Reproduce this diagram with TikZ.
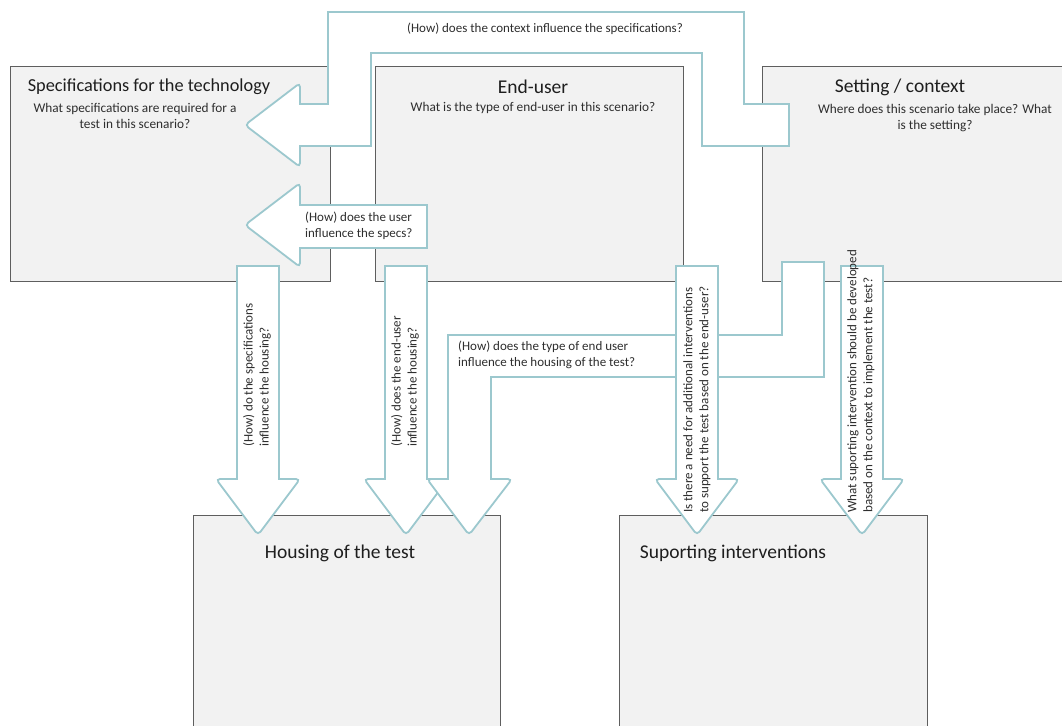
\documentclass[tikz,border=0pt]{standalone}
\usepackage{fontspec}
\setmainfont{Carlito}
\definecolor{boxline}{HTML}{5E5E5E}
\definecolor{boxfill}{HTML}{F2F2F2}
\definecolor{teal1}{HTML}{9CC8CE}
\definecolor{txtcol}{HTML}{2E2E2E}
\definecolor{titlecol}{HTML}{1E1E1E}
\begin{document}
\begin{tikzpicture}[x=1pt,y=-1pt,
  box/.style={draw=boxline, fill=boxfill, line width=1pt, anchor=north west, inner sep=0pt},
  blk/.style={draw=teal1, fill=white, line width=1.8pt, line join=miter},
  ttl/.style={font=\fontsize{19.5}{22}\selectfont, text=titlecol, inner sep=0pt},
  sub/.style={font=\fontsize{13.3}{16}\selectfont, text=txtcol, align=center, inner sep=0pt},
  lbl/.style={font=\fontsize{13}{16}\selectfont, text=txtcol, align=left, inner sep=0pt},
  vlbl/.style={lbl, rotate=90, anchor=west},
]
\useasboundingbox (0,0) rectangle (1062,725);
\clip (0,0) rectangle (1062,725);

% boxes
\node[box, minimum width=320pt, minimum height=215pt] (spec) at (10,66) {};
\node[box, minimum width=308pt, minimum height=215pt] (eu) at (375,66) {};
\node[box, minimum width=320pt, minimum height=215pt] (set) at (762,66) {};
\node[box, minimum width=307pt, minimum height=240pt] (hous) at (193,515) {};
\node[box, minimum width=308pt, minimum height=240pt] (supp) at (619,515) {};

% titles and questions
\node[ttl, font=\fontsize{18.3}{22}\selectfont] (specT) at (149,87) {Specifications for the technology};
\node[sub] (specQ) at (135,116) {What specifications are required for a\\test in this scenario?};
\node[ttl] (euT) at (533,87) {End-user};
\node[sub] (euQ) at (533,108) {What is the type of end-user in this scenario?};
\node[ttl] (setT) at (900,87) {Setting / context};
\node[sub] (setQ) at (935,118) {Where does this scenario take place? What\\is the setting?};
\node[ttl] (housT) at (340,553) {Housing of the test};
\node[ttl] (suppT) at (733,553) {Suporting interventions};

% block arrows
\draw[blk] (328,104) -- (328,12) -- (744,12) -- (744,104) -- (789,104) -- (789,146) -- (702,146) -- (702,53) -- (371,53) -- (371,146) -- (300,146)
  [rounded corners=4pt] -- (300,167) -- (245,125) -- (300,83) [sharp corners] -- (300,104) -- cycle;
\draw[blk] (427,205) -- (427,248) -- (300,248) [rounded corners=4pt] -- (300,267) -- (245,225) -- (300,183) [sharp corners] -- (300,205) -- cycle;
\draw[blk] (237,266) -- (279,266) -- (279,479) [rounded corners=4pt] -- (300,479) -- (258,535) -- (216,479) [sharp corners] -- (237,479) -- cycle;
\draw[blk] (385,266) -- (427,266) -- (427,479) [rounded corners=4pt] -- (448,479) -- (406,535) -- (364,479) [sharp corners] -- (385,479) -- cycle;
\draw[blk] (782,262) -- (824,262) -- (824,377) -- (491,377) -- (491,479) [rounded corners=4pt] -- (512,479) -- (469,535) -- (427,479) [sharp corners] -- (448,479) -- (448,335) -- (782,335) -- cycle;
\draw[blk] (676,266) -- (718,266) -- (718,479) [rounded corners=4pt] -- (739,479) -- (697,535) -- (655,479) [sharp corners] -- (676,479) -- cycle;
\draw[blk] (841,266) -- (883,266) -- (883,479) [rounded corners=4pt] -- (904,479) -- (862,535) -- (820,479) [sharp corners] -- (841,479) -- cycle;

% arrow labels
\node[lbl] (l1) at (545,29) {(How) does the context influence the specifications?};
\node[lbl, anchor=west] (l2) at (305,226) {(How) does the user\\influence the specs?};
\node[lbl, anchor=west] (l3) at (458,355) {(How) does the type of end user\\influence the housing of the test?};
\node[vlbl] (l4) at (257,447) {(How) do the specifications\\influence the housing?};
\node[vlbl] (l5) at (405,447) {(How) does the end-user\\influence the housing?};
\node[vlbl] (l6) at (697,513) {Is there a need for additional interventions\\to support the test based on the end-user?};
\node[vlbl] (l7) at (861,513) {What suporting intervention should be developed\\based on the context to implement the test?};
\end{tikzpicture}
\end{document}
